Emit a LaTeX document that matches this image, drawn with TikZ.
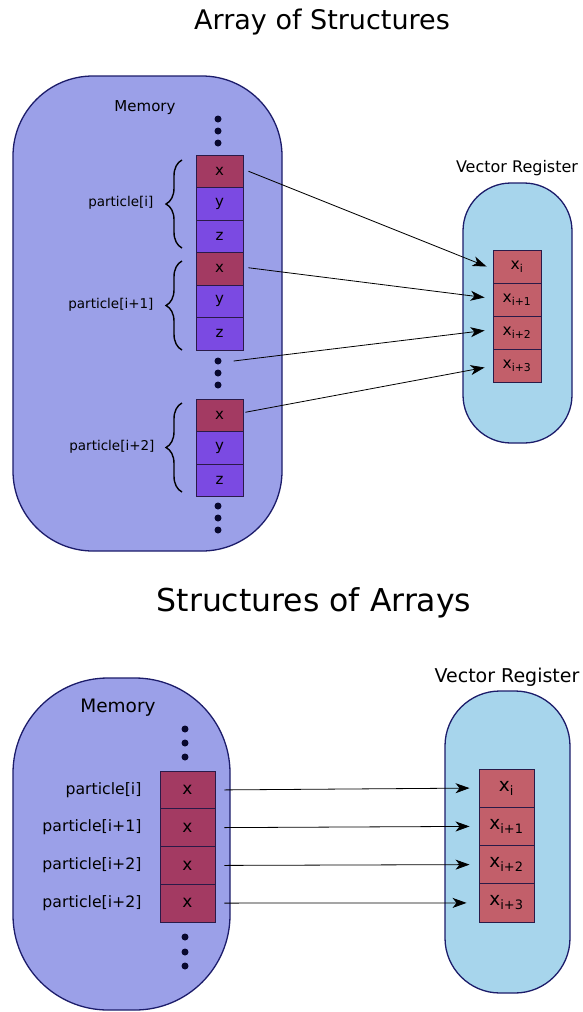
\documentclass[tikz,border=0pt]{standalone}
\usepackage{fontspec}
\setmainfont{DejaVu Sans}
\usetikzlibrary{arrows.meta,decorations.pathreplacing}
\definecolor{memfill}{HTML}{9BA0E8}
\definecolor{regfill}{HTML}{A7D5EC}
\definecolor{edgecol}{HTML}{1C1C6A}
\definecolor{xcol}{HTML}{A33A62}
\definecolor{yzcol}{HTML}{7B4AE2}
\definecolor{regcell}{HTML}{C25F6A}
\definecolor{celledge}{HTML}{2A1A48}
\definecolor{dotcol}{HTML}{08082E}
\tikzset{
  blob/.style={draw=edgecol, line width=1.3pt, inner sep=0pt},
  memcell/.style={draw=celledge, line width=0.9pt, inner sep=0pt, minimum width=47pt, minimum height=32.5pt, font=\fontsize{15}{15}\selectfont},
  xcell/.style={memcell, fill=xcol},
  yzcell/.style={memcell, fill=yzcol},
  rcell/.style={draw=celledge, line width=0.9pt, fill=regcell, inner sep=0pt, minimum width=48pt, minimum height=33pt, font=\fontsize{15.5}{15.5}\selectfont},
  memdot/.style={circle, fill=dotcol, inner sep=0pt, minimum size=7pt},
  ptr/.style={-{Stealth[length=14pt,width=10pt,inset=4pt]}, line width=0.8pt},
  curly/.style={decorate, decoration={brace, amplitude=16pt}, line width=1.4pt},
  lbl/.style={font=\fontsize{13.5}{14}\selectfont}
}
\begin{document}
\begin{tikzpicture}[x=1pt, y=-1pt]
    \useasboundingbox (0,0) rectangle (582,1012);
    % array of structures
    \node (T1) at (322,22) {\fontsize{27}{27}\selectfont Array of Structures};
    \node[blob, fill=memfill, rounded corners=80pt, minimum width=269pt, minimum height=475pt] (M1) at (147.5,313.5) {};
    \node[font=\fontsize{15}{15}\selectfont] (ML1) at (145,108) {Memory};
    \node[memdot] (d1) at (218,119) {};
    \node[memdot] (d2) at (218,131) {};
    \node[memdot] (d3) at (218,143) {};
    \node[xcell] (ax1) at (219.5,171.25) {x};
    \node[yzcell] (ay1) at (219.5,203.75) {y};
    \node[yzcell] (az1) at (219.5,236.25) {z};
    \node[xcell] (ax2) at (219.5,268.75) {x};
    \node[yzcell] (ay2) at (219.5,301.25) {y};
    \node[yzcell] (az2) at (219.5,333.75) {z};
    \node[memdot] (d4) at (218,361) {};
    \node[memdot] (d5) at (218,373) {};
    \node[memdot] (d6) at (218,385) {};
    \node[xcell] (ax3) at (219.5,415.25) {x};
    \node[yzcell] (ay3) at (219.5,447.75) {y};
    \node[yzcell] (az3) at (219.5,480.25) {z};
    \node[memdot] (d7) at (218,506) {};
    \node[memdot] (d8) at (218,518) {};
    \node[memdot] (d9) at (218,530) {};
    \draw[curly] (182,248) -- (182,160);
    \draw[curly] (182,350) -- (182,261);
    \draw[curly] (182,492) -- (182,403);
    \node[lbl, anchor=east] (p1) at (157,203) {particle[i]};
    \node[lbl, anchor=east] (p2) at (157,305) {particle[i+1]};
    \node[lbl, anchor=east] (p3) at (158,447) {particle[i+2]};
    \node[blob, fill=regfill, rounded corners=48pt, minimum width=109pt, minimum height=260pt] (R1) at (517.5,313) {};
    \node[font=\fontsize{16}{16}\selectfont] (RL1) at (517,168) {Vector Register};
    \node[rcell] (ar1) at (517,266.5) {x\textsubscript{i}};
    \node[rcell] (ar2) at (517,299.5) {x\textsubscript{i+1}};
    \node[rcell] (ar3) at (517,332.5) {x\textsubscript{i+2}};
    \node[rcell] (ar4) at (517,365.5) {x\textsubscript{i+3}};
    \draw[ptr] ([xshift=5pt]ax1.east) -- ([xshift=-6pt]ar1.west);
    \draw[ptr] ([xshift=5pt, yshift=1pt]ax2.east) -- ([xshift=-8pt, yshift=2pt]ar2.west);
    \draw[ptr] ([xshift=12pt]d4.east) -- ([xshift=-8pt, yshift=2pt]ar3.west);
    \draw[ptr] ([xshift=2pt, yshift=3pt]ax3.east) -- ([xshift=-8pt, yshift=-2pt]ar4.west);
    % structures of arrays
    \node (T2) at (314,603) {\fontsize{31.5}{31.5}\selectfont Structures of Arrays};
    \node[blob, fill=memfill, rounded corners=95pt, minimum width=217pt, minimum height=332pt] (M2) at (121.5,844) {};
    \node[font=\fontsize{18.5}{18.5}\selectfont] (ML2) at (118,708) {Memory};
    \node[memdot] (e1) at (185,729) {};
    \node[memdot] (e2) at (185,743) {};
    \node[memdot] (e3) at (185,757) {};
    \node[xcell, minimum width=55pt, minimum height=37.75pt, font=\fontsize{17}{17}\selectfont] (bx1) at (187.5,789.9) {x};
    \node[xcell, minimum width=55pt, minimum height=37.75pt, font=\fontsize{17}{17}\selectfont] (bx2) at (187.5,827.6) {x};
    \node[xcell, minimum width=55pt, minimum height=37.75pt, font=\fontsize{17}{17}\selectfont] (bx3) at (187.5,865.4) {x};
    \node[xcell, minimum width=55pt, minimum height=37.75pt, font=\fontsize{17}{17}\selectfont] (bx4) at (187.5,903.1) {x};
    \node[memdot] (e4) at (185,937) {};
    \node[memdot] (e5) at (185,952) {};
    \node[memdot] (e6) at (185,966) {};
    \node[anchor=east, font=\fontsize{15.7}{16}\selectfont] (q1) at (145,790) {particle[i]};
    \node[anchor=east, font=\fontsize{15.7}{16}\selectfont] (q2) at (145,827) {particle[i+1]};
    \node[anchor=east, font=\fontsize{15.7}{16}\selectfont] (q3) at (145,865) {particle[i+2]};
    \node[anchor=east, font=\fontsize{15.7}{16}\selectfont] (q4) at (145,903) {particle[i+2]};
    \node[blob, fill=regfill, rounded corners=55pt, minimum width=125pt, minimum height=302pt] (R2) at (507.5,842) {};
    \node[font=\fontsize{19}{19}\selectfont] (RL2) at (507,677) {Vector Register};
    \node[rcell, minimum width=55pt, minimum height=38.25pt, font=\fontsize{18.5}{18.5}\selectfont] (br1) at (506.5,788.1) {x\textsubscript{i}};
    \node[rcell, minimum width=55pt, minimum height=38.25pt, font=\fontsize{18.5}{18.5}\selectfont] (br2) at (506.5,826.4) {x\textsubscript{i+1}};
    \node[rcell, minimum width=55pt, minimum height=38.25pt, font=\fontsize{18.5}{18.5}\selectfont] (br3) at (506.5,864.6) {x\textsubscript{i+2}};
    \node[rcell, minimum width=55pt, minimum height=38.25pt, font=\fontsize{18.5}{18.5}\selectfont] (br4) at (506.5,902.9) {x\textsubscript{i+3}};
    \draw[ptr] ([xshift=9pt]bx1.east) -- ([xshift=-9pt]br1.west);
    \draw[ptr] ([xshift=9pt]bx2.east) -- ([xshift=-9pt]br2.west);
    \draw[ptr] ([xshift=9pt]bx3.east) -- ([xshift=-9pt]br3.west);
    \draw[ptr] ([xshift=9pt]bx4.east) -- ([xshift=-12pt]br4.west);
\end{tikzpicture}
\end{document}
